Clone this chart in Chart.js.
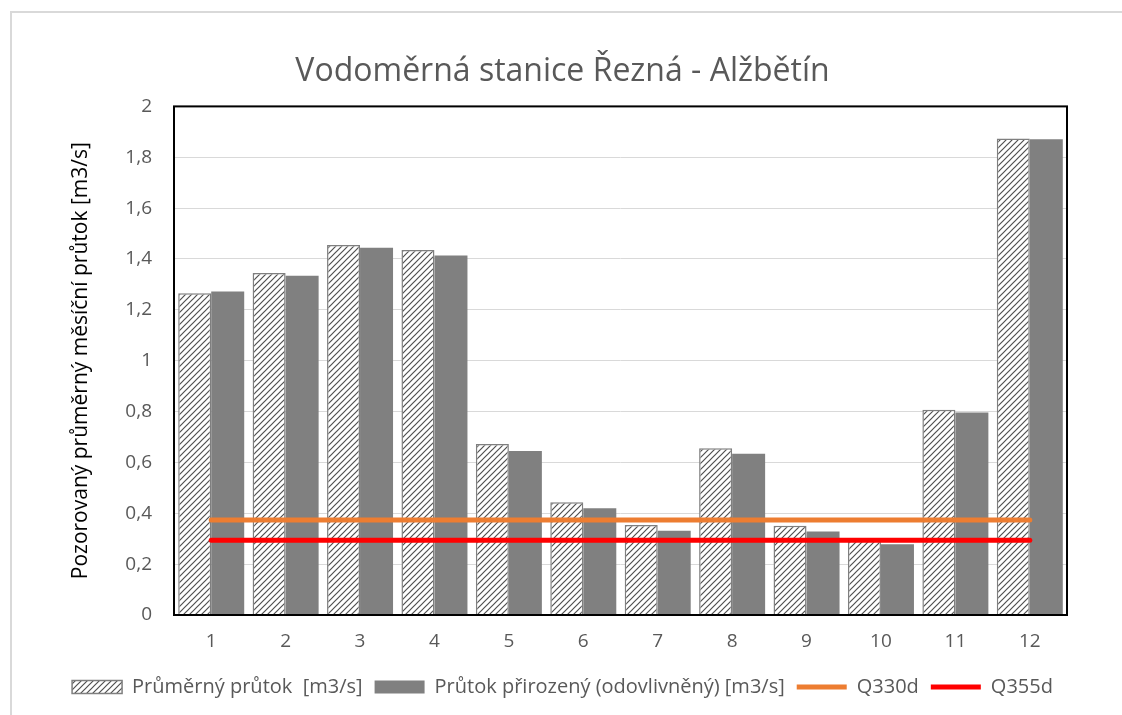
<!DOCTYPE html>
<html>
<head>
<meta charset="utf-8">
<script src="https://cdn.jsdelivr.net/npm/chart.js@4.4.1/dist/chart.umd.min.js"></script>
<style>
    body { margin: 0; background: #fff; }
    #wrap { position: relative; width: 1122px; height: 715px; overflow: hidden; }
    #frame { position: absolute; left: 10px; top: 11px; width: 1200px; height: 800px; border: 2px solid #d9d9d9; }
    #chart { position: absolute; left: 0; top: 0; }
</style>
</head>
<body>
<div id="wrap">
    <div id="frame"></div>
    <canvas id="chart" width="1122" height="715"></canvas>
</div>
<script>
const months = ['1', '2', '3', '4', '5', '6', '7', '8', '9', '10', '11', '12'];
const prumernyPrutok = [1.265, 1.345, 1.455, 1.435, 0.672, 0.443, 0.354, 0.656, 0.351, 0.296, 0.807, 1.874];
const prirozenyPrutok = [1.272, 1.334, 1.444, 1.414, 0.645, 0.42, 0.331, 0.634, 0.328, 0.278, 0.796, 1.871];
const q330d = [0.374, 0.374, 0.374, 0.374, 0.374, 0.374, 0.374, 0.374, 0.374, 0.374, 0.374, 0.374];
const q355d = [0.294, 0.294, 0.294, 0.294, 0.294, 0.294, 0.294, 0.294, 0.294, 0.294, 0.294, 0.294];
const yTicks = ['0', '0,2', '0,4', '0,6', '0,8', '1', '1,2', '1,4', '1,6', '1,8', '2'];

const FONT = "'Open Sans', 'Noto Sans', sans-serif";
const TEXT = '#595959';

// diagonal hatch like the excel pattern fill
function makeHatch() {
    const c = document.createElement('canvas');
    c.width = 6;
    c.height = 6;
    const g = c.getContext('2d');
    g.fillStyle = '#fff';
    g.fillRect(0, 0, 6, 6);
    g.strokeStyle = '#505050';
    g.lineWidth = 1.2;
    g.beginPath();
    g.moveTo(0, 6); g.lineTo(6, 0);
    g.moveTo(-1, 1); g.lineTo(1, -1);
    g.moveTo(5, 7); g.lineTo(7, 5);
    g.stroke();
    return g.createPattern(c, 'repeat');
}
const hatch = makeHatch();

// black frame round the plot area
const plotBorder = {
    id: 'plotBorder',
    afterDraw(chart) {
        const a = chart.chartArea;
        const ctx = chart.ctx;
        ctx.save();
        ctx.strokeStyle = '#000';
        ctx.lineWidth = 2;
        ctx.strokeRect(a.left, a.top, a.right - a.left, a.bottom - a.top);
        ctx.restore();
    }
};

new Chart(document.getElementById('chart'), {
    type: 'bar',
    data: {
        labels: months,
        datasets: [{
            label: 'Průměrný průtok  [m3/s]',
            data: prumernyPrutok,
            backgroundColor: hatch,
            borderColor: '#7f7f7f',
            borderWidth: 1.5,
            order: 2
        }, {
            label: 'Průtok přirozený (odovlivněný) [m3/s]',
            data: prirozenyPrutok,
            backgroundColor: '#808080',
            borderWidth: 0,
            order: 2
        }, {
            type: 'line',
            label: 'Q330d',
            data: q330d,
            borderColor: '#ED7D31',
            backgroundColor: '#ED7D31',
            borderWidth: 5,
            borderCapStyle: 'round',
            pointRadius: 0,
            order: 1
        }, {
            type: 'line',
            label: 'Q355d',
            data: q355d,
            borderColor: '#FF0000',
            backgroundColor: '#FF0000',
            borderWidth: 5,
            borderCapStyle: 'round',
            pointRadius: 0,
            order: 1
        }]
    },
    options: {
        responsive: false,
        animation: false,
        layout: { padding: { left: 58, right: 55, top: 0, bottom: 8 } },
        datasets: { bar: { categoryPercentage: 0.887, barPercentage: 1 } },
        plugins: {
            tooltip: { enabled: false },
            title: {
                display: true,
                text: 'Vodoměrná stanice Řezná - Alžbětín',
                color: TEXT,
                font: { family: FONT, size: 32, weight: 'normal' },
                padding: { top: 53, bottom: 15 }
            },
            legend: {
                position: 'bottom',
                labels: {
                    color: TEXT,
                    font: { family: FONT, size: 20 },
                    usePointStyle: true,
                    pointStyleWidth: 50,
                    boxHeight: 13,
                    padding: 12,
                    sort: (a, b) => a.datasetIndex - b.datasetIndex,
                    generateLabels(chart) {
                        const items = Chart.defaults.plugins.legend.labels.generateLabels(chart);
                        items.forEach(it => {
                            const ds = chart.data.datasets[it.datasetIndex];
                            it.pointStyle = ds.type === 'line' ? 'line' : 'rect';
                        });
                        return items;
                    }
                }
            }
        },
        scales: {
            x: {
                grid: { display: false, drawTicks: false },
                border: { display: false },
                ticks: { color: TEXT, font: { family: FONT, size: 19 }, padding: 15 },
                afterFit(scale) { scale.height = 50; }
            },
            y: {
                min: 0,
                max: 2,
                grid: { color: '#d9d9d9', lineWidth: 1, drawTicks: false },
                border: { display: false },
                ticks: {
                    stepSize: 0.2,
                    color: TEXT,
                    font: { family: FONT, size: 19 },
                    padding: 22,
                    callback: (v, i) => yTicks[i]
                },
                title: {
                    display: true,
                    text: 'Pozorovaný průměrný měsíční průtok [m3/s]',
                    color: '#000',
                    font: { family: FONT, size: 21 },
                    padding: { top: 10, bottom: 0 }
                },
                afterFit(scale) { scale.width = 116; }
            }
        }
    },
    plugins: [plotBorder]
});
</script>
</body>
</html>
